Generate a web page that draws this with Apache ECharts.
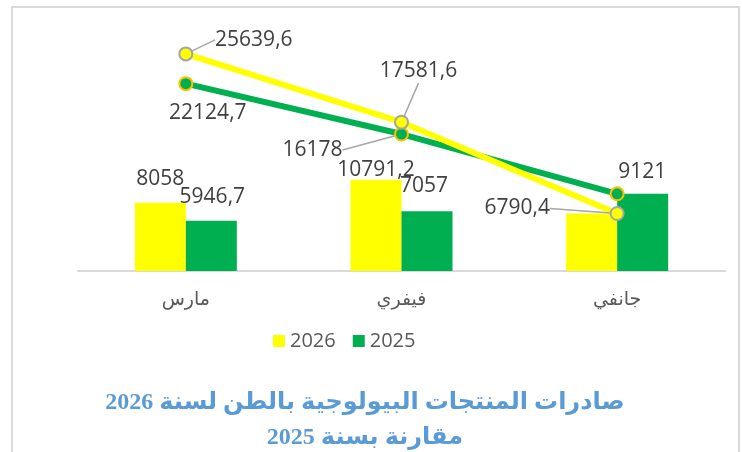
<!DOCTYPE html>
<html>
<head>
<meta charset="utf-8">
<script src="https://cdn.jsdelivr.net/npm/echarts@6/dist/echarts.min.js"></script>
<style>
  html, body { margin: 0; padding: 0; background: #ffffff; }
  #main { width: 742px; height: 452px; }
</style>
</head>
<body>
<div id="main"></div>
<script>
// months, shown left to right as in the reference
var months = ['مارس', 'فيفري', 'جانفي'];

// monthly exports (tons)
var bars2026 = [8058, 10791.2, 6790.4];
var bars2025 = [5946.7, 7057, 9121];

// cumulative values drawn as lines
var cum2026 = [25639.6, 17581.6, 6790.4];
var cum2025 = [22124.7, 16178, 9121];

var titleLines = ['صادرات المنتجات البيولوجية بالطن لسنة 2026', 'مقارنة بسنة 2025'];

var numFont = '"Open Sans", sans-serif';
var fmt = function (p) { return String(p.value).replace('.', ','); };

// label nudges (dx, dy) per point
var barShift2026 = [[0, -12], [0, 2], null];
var barShift2025 = [[1, -12], [-3, -13], null];
var lineShift2026 = [[68, -14], [17, -51], [-100, -5]];
var lineShift2025 = [[22, 29], [-89, 16], [25, -22]];

function shifter(tbl) {
  return function (p) {
    var s = tbl[p.dataIndex];
    if (!s) return {};
    return { dx: s[0], dy: s[1] };
  };
}

var labelBase = {
  fontFamily: numFont,
  fontSize: 21,
  lineHeight: 24,
  color: '#404040',
  formatter: fmt
};

var myChart = echarts.init(document.getElementById('main'));

var option = {
  backgroundColor: '#ffffff',
  animation: false,
  graphic: [{
    type: 'rect',
    shape: { x: 12, y: 7, width: 727, height: 470 },
    style: { fill: 'none', stroke: '#d9d9d9', lineWidth: 2 },
    silent: true
  }],
  title: {
    text: titleLines.map(function (t) { return '\u202B' + t + '\u202C'; }).join('\n'),
    left: 360,
    top: 380,
    textAlign: 'center',
    textStyle: {
      color: '#5B9BD5',
      fontWeight: 'bold',
      fontFamily: '"Liberation Serif", "DejaVu Sans", serif',
      fontSize: 24,
      lineHeight: 35
    }
  },
  legend: {
    data: ['2026', '2025'],
    left: 268,
    top: 326,
    icon: 'rect',
    itemWidth: 12,
    itemHeight: 12,
    itemGap: 17,
    textStyle: { fontFamily: numFont, fontSize: 20, color: '#595959' }
  },
  grid: { left: 78, right: 17, top: 17, bottom: 181 },
  xAxis: {
    type: 'category',
    data: months,
    axisLine: { lineStyle: { color: '#d9d9d9', width: 2 } },
    axisTick: { show: false },
    axisLabel: {
      color: '#595959',
      fontSize: 19,
      fontFamily: '"DejaVu Sans", sans-serif',
      margin: 20
    }
  },
  yAxis: {
    type: 'value',
    min: 0,
    max: 30000,
    show: false,
    splitLine: { show: false }
  },
  series: [{
    name: '2026',
    type: 'bar',
    barWidth: 51,
    barGap: '0%',
    itemStyle: { color: '#FFFF00' },
    label: Object.assign({ show: true, position: 'top', distance: 0 }, labelBase, {
      formatter: function (p) { return p.dataIndex < 2 ? fmt(p) : ''; }
    }),
    labelLayout: shifter(barShift2026),
    data: bars2026
  }, {
    name: '2025',
    type: 'bar',
    barWidth: 51,
    barGap: '0%',
    itemStyle: { color: '#00B050' },
    label: Object.assign({ show: true, position: 'top', distance: 0 }, labelBase, {
      formatter: function (p) { return p.dataIndex < 2 ? fmt(p) : ''; }
    }),
    labelLayout: shifter(barShift2025),
    data: bars2025
  }, {
    name: 'تراكمي 2026',
    type: 'line',
    z: 5,
    symbol: 'circle',
    symbolSize: 13,
    lineStyle: { color: '#FFFF00', width: 6 },
    itemStyle: { color: '#FFFF00', borderColor: '#A5A5A5', borderWidth: 2 },
    label: Object.assign({ show: true, position: 'inside' }, labelBase),
    labelLine: { show: true, lineStyle: { color: '#A6A6A6', width: 1.5 } },
    labelLayout: shifter(lineShift2026),
    data: cum2026
  }, {
    name: 'تراكمي 2025',
    type: 'line',
    z: 4,
    symbol: 'circle',
    symbolSize: 13,
    lineStyle: { color: '#00B050', width: 6 },
    itemStyle: { color: '#00B050', borderColor: '#FFC000', borderWidth: 2 },
    label: Object.assign({ show: true, position: 'inside' }, labelBase),
    labelLayout: shifter(lineShift2025),
    data: cum2025.map(function (v, i) {
      return { value: v, labelLine: { show: i === 1, lineStyle: { color: '#A6A6A6', width: 1.5 } } };
    })
  }]
};

myChart.setOption(option);
</script>
</body>
</html>
